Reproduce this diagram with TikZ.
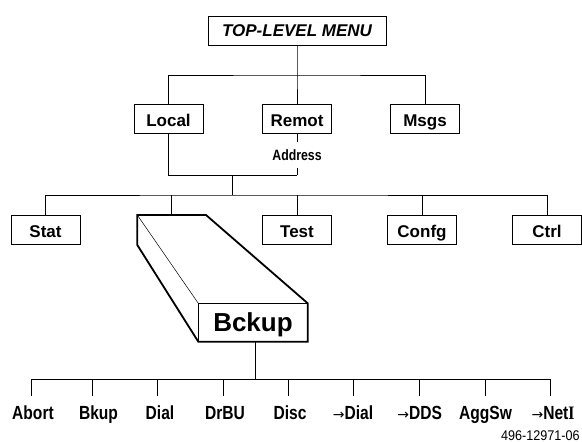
\documentclass[tikz,border=0pt]{standalone}
\usepackage{fontspec}
\setmainfont{Liberation Sans}
\newfontfamily\condfont[FakeStretch=0.82]{Liberation Sans}
\newfontfamily\condserif[FakeStretch=0.82]{Liberation Serif}
\newfontfamily\numfont[FakeStretch=0.9]{Liberation Sans}
\newfontfamily\arrowfont{DejaVu Sans}
% thin arrow in front of the jump entries
\newcommand{\menuarrow}{{\arrowfont\mdseries\fontsize{14}{14}\selectfont\raisebox{0.5pt}{→}}}

\begin{document}
\begin{tikzpicture}[x=1pt,y=-1pt,
  line width=0.9pt,
  menubox/.style={draw, line width=0.9pt, minimum width=69pt, minimum height=29pt,
    inner sep=0pt, text height=15.5pt, text depth=0pt,
    font=\fontsize{17}{17}\selectfont\bfseries},
  leaf/.style={anchor=base, inner sep=0pt,
    font=\condfont\fontsize{19}{19}\selectfont\bfseries},
  ]
\useasboundingbox (0,0) rectangle (582,442);

% top level
\node[menubox, minimum width=178pt, text height=11pt] (top) at (297,30.5) {\itshape TOP-LEVEL MENU};
\node[menubox] (local) at (168.5,118.5) {Local};
\node[menubox] (remot) at (297,118.5) {Remot};
\node[menubox] (msgs)  at (425,118.5) {Msgs};
\node[inner sep=0pt, minimum height=25pt, font=\condfont\fontsize{15}{15}\selectfont\bfseries]
  (addr) at (297,155) {Address};

\coordinate (bar1) at (297,75);
\draw (top.south) -- (bar1) -- (remot.north);
\draw (local.north) |- (bar1) -| (msgs.north);

% remote address joins the local branch
\coordinate (bar2) at (297,175);
\coordinate (join) at (232,175);
\coordinate (bar3) at (232,195);
\draw (remot.south) -- (addr.north);
\draw (addr.south) -- (bar2);
\draw (local.south) |- (bar2);
\draw (join) -- (bar3);

% second level
\node[menubox] (stat)  at (45.5,229.5) {Stat};
\node[menubox] (test)  at (297,229.5) {Test};
\node[menubox] (confg) at (422,229.5) {Confg};
\node[menubox] (ctrl)  at (547,229.5) {Ctrl};

% raised Bckup block
\coordinate (p1) at (137.3,215);
\coordinate (p2) at (206,215);
\coordinate (p3) at (307.7,303.3);
\coordinate (p4) at (307.7,341.7);
\coordinate (p5) at (198.3,341.7);
\coordinate (p6) at (137.3,245);
\coordinate (p7) at (198.3,303.3);
\coordinate (bktop) at (171.7,215);
\node[draw, line width=1pt, minimum width=109.4pt, minimum height=38.4pt, inner sep=0pt,
  text height=17pt, text depth=0pt,
  font=\fontsize{26}{26}\selectfont\bfseries] (bckup) at (253,322.5) {Bckup};
\draw[line width=0.5pt] (p1) -- (p7);
\draw[line width=1.8pt, line join=miter] (p1) -- (p2) -- (p3) -- (p4) -- (p5) -- (p6) -- cycle;

\draw (stat.north) |- (bar3) -| (ctrl.north);
\draw (bktop) -- (bktop |- bar3);
\draw (test.north) -- (test.north |- bar3);
\draw (confg.north) -- (confg.north |- bar3);

% Bckup submenu
\coordinate (bar4) at (255.7,379);
\draw ([xshift=2.7pt]bckup.south) -- (bar4);

\node[leaf] (l1) at (33,419.5) {Abort};
\node[leaf] (l2) at (98.5,419.5) {Bkup};
\node[leaf] (l3) at (160,419.5) {Dial};
\node[leaf] (l4) at (225,419.5) {DrBU};
\node[leaf] (l5) at (290,419.5) {Disc};
\node[leaf] (l6) at (353,419.5) {\menuarrow Dial};
\node[leaf] (l7) at (419.7,419.5) {\menuarrow DDS};
\node[leaf] (l8) at (485.5,419.5) {AggSw};
\node[leaf] (l9) at (553,419.5) {\menuarrow Net{\condserif I}};

\coordinate (t1) at (31.7,396);
\coordinate (t2) at (92.7,396);
\coordinate (t3) at (157.7,396);
\coordinate (t4) at (223.3,396);
\coordinate (t5) at (288.3,396);
\coordinate (t6) at (353.7,396);
\coordinate (t7) at (419.3,396);
\coordinate (t8) at (485,396);
\coordinate (t9) at (550,396);
\draw (t1 |- bar4) -- (t9 |- bar4);
\foreach \t in {t1,t2,t3,t4,t5,t6,t7,t8,t9}
  \draw (\t) -- (\t |- bar4);

% figure number
\node[anchor=base east, inner sep=0pt, font=\numfont\fontsize{14}{14}\selectfont]
  (fignum) at (580,440.5) {496-12971-06};
\end{tikzpicture}
\end{document}
